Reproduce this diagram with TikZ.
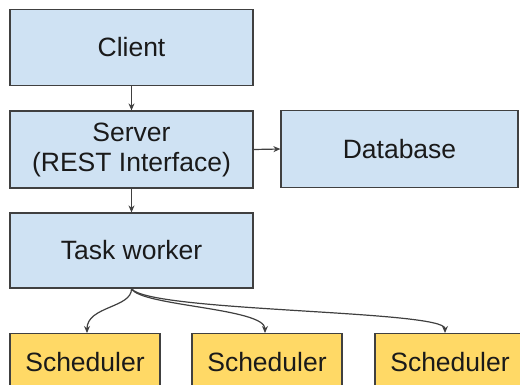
\documentclass[tikz,border=0pt]{standalone}
\usepackage{fontspec}
\setmainfont{Liberation Sans}
\usetikzlibrary{arrows.meta}
\definecolor{boxblue}{HTML}{CFE2F3}
\definecolor{boxyellow}{HTML}{FFD966}
\definecolor{edge}{HTML}{404040}
\definecolor{txt}{HTML}{1A1A1A}
\tikzset{
  lbl/.style={text=txt, font=\fontsize{26.5}{30}\selectfont},
  bluebox/.style={lbl, draw=edge, line width=1.2pt, fill=boxblue, minimum width=243pt, minimum height=76pt, inner sep=0pt, align=center},
  yellowbox/.style={draw=edge, line width=1.2pt, fill=boxyellow, minimum width=150pt, minimum height=76pt, inner sep=0pt},
  arr/.style={draw=edge, line width=1.2pt, -{Stealth[length=7pt,width=6pt]}}
}
\begin{document}
\begin{tikzpicture}[x=1pt,y=-1pt]
\useasboundingbox (0,0) rectangle (520,385);
\clip (0,0) rectangle (520,385);
\node[bluebox] (client) at (131.5,47.5) {Client};
\node[bluebox, minimum height=77pt] (server) at (131.5,149.5) {Server\\(REST Interface)};
\node[bluebox, minimum width=237pt, minimum height=77pt] (db) at (399.5,149) {Database};
\node[bluebox, minimum height=75pt] (tw) at (131.5,250.5) {Task worker};
\node[yellowbox, anchor=north] (s1) at (85,333) {};
\node[yellowbox, anchor=north] (s2) at (267,333) {};
\node[yellowbox, anchor=north] (s3) at (450,333) {};
\node[lbl] (t1) at (85,362) {Scheduler};
\node[lbl] (t2) at (267,362) {Scheduler};
\node[lbl] (t3) at (450,362) {Scheduler};
\draw[arr] (client.south) -- (server.north);
\draw[arr] (server.south) -- (tw.north);
\draw[arr] (server.east) -- (db.west);
\coordinate (e1) at (87,333);
\coordinate (e2) at (265,333);
\coordinate (e3) at (445,333);
\draw[arr] (tw.south) .. controls (132,308) and (87,306) .. (e1);
\draw[arr] (tw.south) .. controls (140,306) and (265,308) .. (e2);
\draw[arr] (tw.south) .. controls (148,312) and (445,310) .. (e3);
\end{tikzpicture}
\end{document}
